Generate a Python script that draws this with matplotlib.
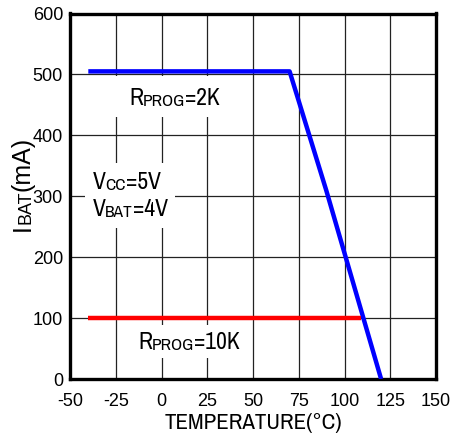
import matplotlib
matplotlib.use("Agg")
import matplotlib.pyplot as plt
from matplotlib.patches import Rectangle

plt.rcParams['font.family'] = ['Liberation Sans', 'DejaVu Sans']
NARROW = ['Archivo Narrow', 'Liberation Sans', 'DejaVu Sans']

# Data
temp_2k = [-40, 70, 90, 120]
ibat_2k = [505, 505, 310, 0]
temp_10k = [-40, 109]
ibat_10k = [100, 100]
x_ticks = [-50, -25, 0, 25, 50, 75, 100, 125, 150]
y_ticks = [0, 100, 200, 300, 400, 500, 600]

fig = plt.figure(figsize=(4.54, 4.41), dpi=100)
ax = fig.add_axes([70 / 454, 62 / 441, 366 / 454, 365.5 / 441])
ax.set_xlim(-50, 150)
ax.set_ylim(0, 600)
ax.set_xticks(x_ticks)
ax.set_yticks(y_ticks)
ax.set_xticklabels([str(v) for v in x_ticks], fontsize=13)
ax.set_yticklabels([str(v) for v in y_ticks], fontsize=13)
ax.tick_params(length=0)
ax.tick_params(axis='y', pad=5)
ax.tick_params(axis='x', pad=10)
for s in ax.spines.values():
    s.set_linewidth(2.4)
    s.set_color('black')
ax.grid(True, color='#222222', linewidth=0.9)
ax.set_axisbelow(True)

# white gaps behind labels
for (x0, y0, x1, y1) in [(-30, 430, 45, 497), (-42, 248, 7.4, 355), (-20, 35, 45, 89)]:
    ax.add_patch(Rectangle((x0, y0), x1 - x0, y1 - y0, facecolor='white',
                           edgecolor='none', zorder=1))

ax.plot(temp_2k, ibat_2k, color='#0000ff', linewidth=3.2, zorder=3,
        solid_capstyle='butt')
ax.plot(temp_10k, ibat_10k, color='#ff0000', linewidth=3.2, zorder=3,
        solid_capstyle='butt')


def rich(x, y, pieces, big=17, small=12.5):
    prev = None
    for txt, is_small in pieces:
        fs = small if is_small else big
        if prev is None:
            prev = ax.text(x, y, txt, fontsize=fs, ha='left', va='baseline',
                           zorder=4, family=NARROW)
        else:
            prev = ax.annotate(txt, xy=(1, 0), xycoords=prev, fontsize=fs,
                               ha='left', va='bottom', zorder=4, family=NARROW)
    return prev


rich(-17.8, 449, [('R', False), ('PROG', True), ('=2K', False)])
rich(-12.8, 49, [('R', False), ('PROG', True), ('=10K', False)])
rich(-37.8, 312, [('V', False), ('CC', True), ('=5V', False)])
rich(-37.8, 267, [('V', False), ('BAT', True), ('=4V', False)])

# rotated y label built from pieces
t1 = fig.text(35 / 454, 1 - 231 / 441, 'I', fontsize=18, rotation=90,
              ha='right', va='bottom')
a2 = ax.annotate('BAT', xy=(1, 1), xycoords=t1, fontsize=13, rotation=90,
                 ha='right', va='bottom', annotation_clip=False)
a3 = ax.annotate('(mA)', xy=(1, 1), xycoords=a2, fontsize=18, rotation=90,
                 ha='right', va='bottom', annotation_clip=False)

ax.set_xlabel('TEMPERATURE(°C)', fontsize=16.5, labelpad=2, family=NARROW)

fig.savefig('out.png', dpi=100)
